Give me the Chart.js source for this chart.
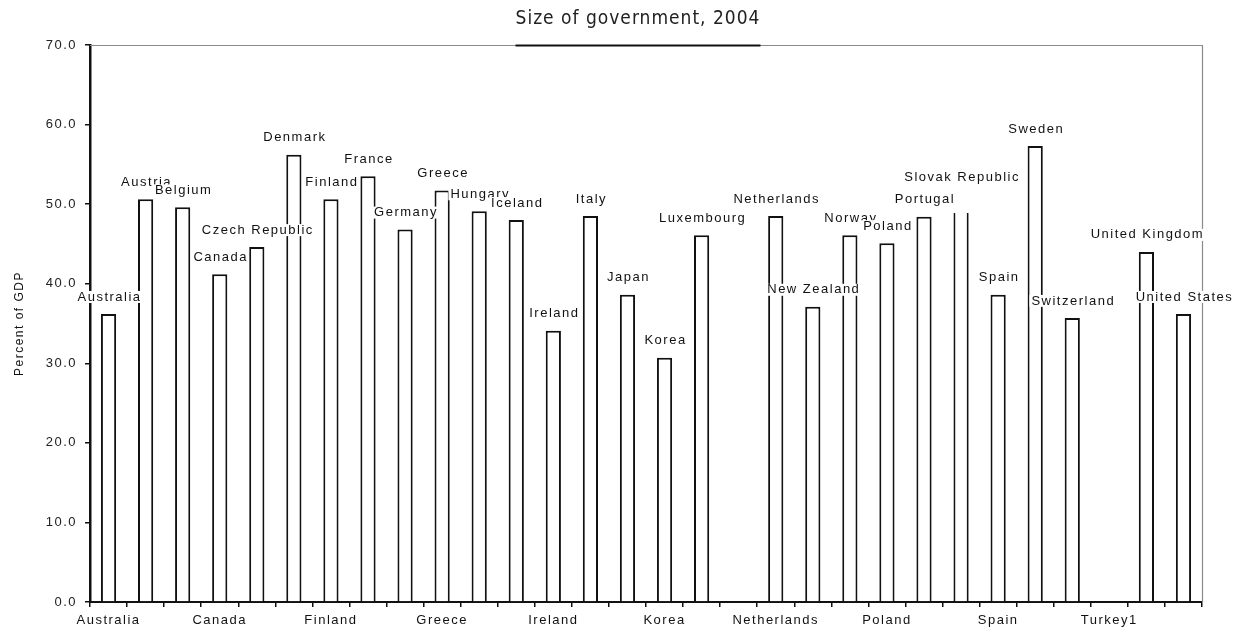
<!DOCTYPE html>
<html>
<head>
<meta charset="utf-8">
<script src="https://cdn.jsdelivr.net/npm/chart.js@4"></script>
<style>
html,body{margin:0;padding:0;background:#fff;}
#wrap{width:1239px;height:634px;}
</style>
</head>
<body>
<div id="wrap"><canvas id="c" width="1239" height="634"></canvas></div>
<script>
const chartTitle = "Size of government, 2004";
const yAxisTitle = "Percent of GDP";
const countries = ["Australia","Austria","Belgium","Canada","Czech Republic","Denmark","Finland","France","Germany","Greece","Hungary","Iceland","Ireland","Italy","Japan","Korea","Luxembourg","Mexico","Netherlands","New Zealand","Norway","Poland","Portugal","Slovak Republic","Spain","Sweden","Switzerland","Turkey1","United Kingdom","United States"];
const values = [36.2,50.6,49.6,41.2,44.6,56.2,50.6,53.5,46.8,51.7,49.1,48.0,34.1,48.5,38.6,30.7,46.1,null,48.5,37.1,46.1,45.1,48.4,48.9,38.6,57.3,35.7,null,44.0,36.2];
const yMin = 0, yMax = 70, yStep = 10;
const labelEvery = 3;

const FONT = "'Liberation Sans', Arial, sans-serif";

const decorPlugin = {
  id: 'decor',
  beforeDraw(chart) {
    chart.ctx.letterSpacing = '1.5px';
  },
  afterDatasetsDraw(chart) {
    const ctx = chart.ctx;
    const a = chart.chartArea;
    ctx.save();
    // plot frame (top & right)
    ctx.strokeStyle = '#8a8a8a';
    ctx.lineWidth = 1.2;
    ctx.beginPath();
    ctx.moveTo(a.left, a.top + 0.5);
    ctx.lineTo(a.right + 0.5, a.top + 0.5);
    ctx.lineTo(a.right + 0.5, a.bottom);
    ctx.stroke();
    // title
    ctx.letterSpacing = '1px';
    ctx.font = "19px 'DejaVu Sans Condensed', 'DejaVu Sans', Verdana, sans-serif";
    ctx.fillStyle = '#222';
    ctx.textAlign = 'center';
    ctx.textBaseline = 'middle';
    const tx = 638;
    ctx.fillText(chartTitle, tx, 19);
    const tw = ctx.measureText(chartTitle).width;
    ctx.strokeStyle = '#111';
    ctx.lineWidth = 2;
    ctx.beginPath();
    ctx.moveTo(tx - tw / 2, a.top + 0.5);
    ctx.lineTo(tx + tw / 2, a.top + 0.5);
    ctx.stroke();
    // data labels with white boxes
    ctx.letterSpacing = '1.5px';
    const meta = chart.getDatasetMeta(0);
    ctx.font = "13px " + FONT;
    ctx.textBaseline = 'middle';
    let prev = null;
    meta.data.forEach((bar, i) => {
      const v = values[i];
      if (v === null || v === undefined) return;
      const txt = countries[i];
      const w = ctx.measureText(txt).width;
      let cy = bar.y - 17;
      const box = { l: bar.x - w / 2 - 1, r: bar.x + w / 2 + 1 };
      if (prev) {
        const ov = Math.min(box.r, prev.r) - Math.max(box.l, prev.l);
        const minW = Math.min(box.r - box.l, prev.r - prev.l);
        if (ov > 0.6 * minW && Math.abs(cy - prev.cy) < 15) {
          cy = prev.cy - 22;
        }
      }
      ctx.fillStyle = '#fff';
      ctx.fillRect(box.l, cy - 6, w + 2, 12);
      ctx.fillStyle = '#111';
      ctx.fillText(txt, bar.x + 1, cy);
      prev = { l: box.l, r: box.r, cy: cy };
    });
    ctx.restore();
  }
};

new Chart(document.getElementById('c'), {
  type: 'bar',
  data: {
    labels: countries,
    datasets: [{
      data: values,
      backgroundColor: '#ffffff',
      borderColor: '#111111',
      borderWidth: (c) => countries[c.dataIndex] === 'Slovak Republic'
        ? {top: 0, left: 2, right: 2, bottom: 0} : 2,
      barPercentage: 0.41,
      categoryPercentage: 1.0
    }]
  },
  options: {
    responsive: false,
    animation: false,
    devicePixelRatio: 1,
    layout: { padding: { left: 12, right: 37, top: 45, bottom: 3 } },
    plugins: {
      legend: { display: false },
      title: { display: false },
      tooltip: { enabled: false }
    },
    scales: {
      x: {
        offset: true,
        grid: { offset: true, drawOnChartArea: false, drawTicks: true, tickLength: 5, color: '#111', lineWidth: 1.5 },
        border: { display: true, color: '#111', width: 2 },
        ticks: {
          autoSkip: false, maxRotation: 0, minRotation: 0, padding: 6,
          color: '#111', font: { family: FONT, size: 13 },
          callback: (v, i) => (i % labelEvery === 0 ? countries[i] : '')
        },
        afterFit: (s) => { s.height = 29; }
      },
      y: {
        min: yMin, max: yMax,
        grid: { drawOnChartArea: false, drawTicks: true, tickLength: 5, color: '#111', lineWidth: 1.5 },
        border: { display: true, color: '#111', width: 2.5 },
        ticks: {
          stepSize: yStep, padding: 8, color: '#222',
          font: { family: FONT, size: 13 },
          callback: (v) => Number(v).toFixed(1)
        },
        title: { display: true, text: yAxisTitle, color: '#111', font: { family: FONT, size: 12 }, padding: 0 },
        afterFit: (s) => { s.width = 78; }
      }
    }
  },
  plugins: [decorPlugin]
});
</script>
</body>
</html>
